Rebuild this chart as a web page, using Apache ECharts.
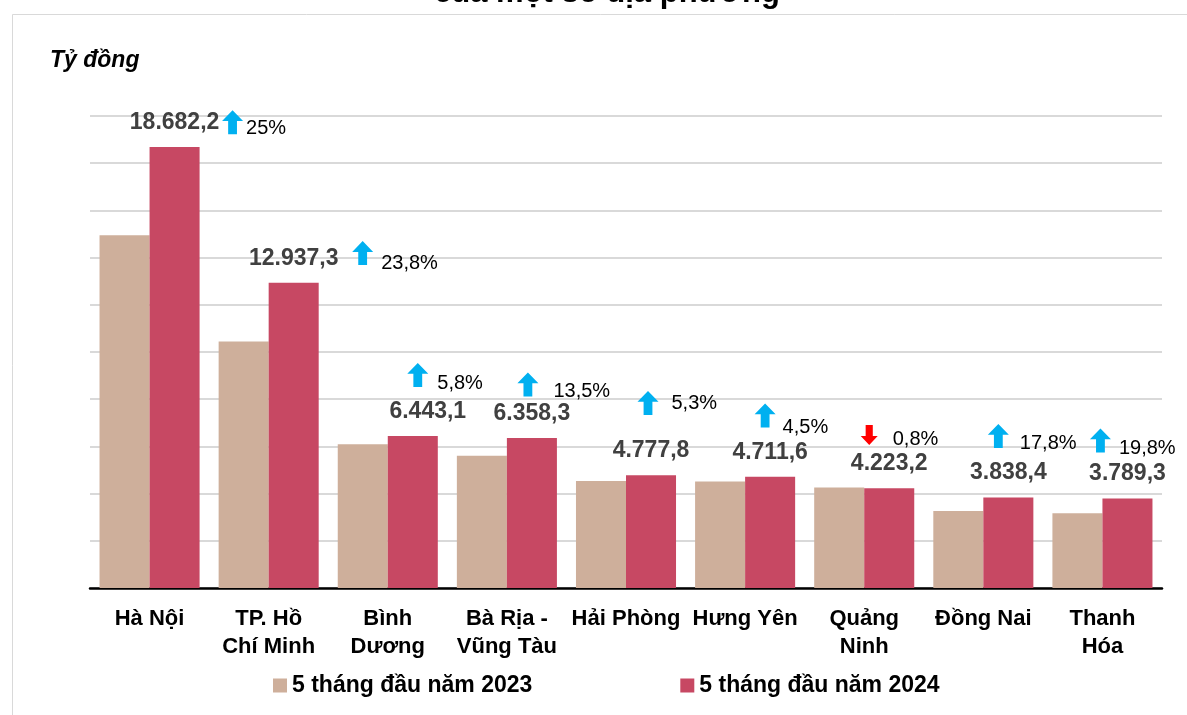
<!DOCTYPE html>
<html>
<head>
<meta charset="utf-8">
<script src="https://cdn.jsdelivr.net/npm/echarts@6/dist/echarts.min.js"></script>
<style>
html,body{margin:0;padding:0;background:#fff;}
#chart{width:1187px;height:715px;}
</style>
</head>
<body>
<div id="chart"></div>
<script>
// ---- data ----
const categories = ['Hà Nội', 'TP. Hồ\nChí Minh', 'Bình\nDương', 'Bà Rịa -\nVũng Tàu', 'Hải Phòng', 'Hưng Yên', 'Quảng\nNinh', 'Đồng Nai', 'Thanh\nHóa'];
const seriesNames = ['5 tháng đầu năm 2023', '5 tháng đầu năm 2024'];
const values2023 = [14945.8, 10450.2, 6089.9, 5602.0, 4537.3, 4508.7, 4257.3, 3258.4, 3163.0];
const values2024 = [18682.2, 12937.3, 6443.1, 6358.3, 4777.8, 4711.6, 4223.2, 3838.4, 3789.3];
const changePct = [25, 23.8, 5.8, 13.5, 5.3, 4.5, -0.8, 17.8, 19.8];
const yTicks = [0, 2000, 4000, 6000, 8000, 10000, 12000, 14000, 16000, 18000, 20000];
const titleText = 'của một số địa phương';
const unitText = 'Tỷ đồng';

// ---- annotation layout (arrow anchor in value units, offsets in px) ----
const arrowAnchorY = [19735, 14191, 9027, 8625, 7842, 7313, 6488, 6445, 6255];
const arrowDx = [83, 94, 30, 21, 22, 20, 5, 15, -2];
const pctDx = [3, 8, 9, 15, 13, 7, 13, 11, 8];
const pctDy = [6, 10, 9, 7, 1, 12, 5, 8, 8];
const valueLabelDx = [0, 0, 15, 0, 0, 0, 0, 0, 0];

const FONT = '"Liberation Sans", Arial, Helvetica, sans-serif';
const C2023 = '#CEAF9B';
const C2024 = '#C74863';

function fmtVN(v, d) {
  const parts = v.toFixed(d).split('.');
  parts[0] = parts[0].replace(/\B(?=(\d{3})+(?!\d))/g, '.');
  return parts.join(',');
}
function fmtPct(p) {
  const a = Math.abs(p);
  return (Number.isInteger(a) ? String(a) : a.toFixed(1).replace('.', ',')) + '%';
}

const UP = 'path://M50,0 L100,45 L71,45 L71,100 L29,100 L29,45 L0,45 Z';
const DOWN = 'path://M29,0 L71,0 L71,55 L100,55 L50,100 L0,55 L29,55 Z';

const chart = echarts.init(document.getElementById('chart'));
chart.setOption({
  animation: false,
  backgroundColor: '#fff',
  textStyle: { fontFamily: FONT },
  grid: { left: 90, right: 25, top: 116, bottom: 127, containLabel: false },
  graphic: [
    { type: 'rect', shape: { x: 12.5, y: 14.5, width: 1200, height: 720 }, style: { fill: 'none', stroke: '#D9D9D9', lineWidth: 1 }, z: -1 },
    { type: 'text', x: 607, y: 9, style: { text: titleText, font: 'bold 31px ' + FONT, fill: '#000', align: 'center', verticalAlign: 'bottom' } },
    { type: 'text', x: 50, y: 61, style: { text: unitText, font: 'italic bold 23px ' + FONT, fill: '#000', align: 'left', verticalAlign: 'middle' } }
  ],
  legend: {
    top: 669,
    left: 268,
    itemWidth: 14,
    itemHeight: 14,
    itemGap: 148,
    icon: 'rect',
    textStyle: { fontSize: 23, fontWeight: 'bold', color: '#000', fontFamily: FONT },
    data: seriesNames
  },
  xAxis: {
    type: 'category',
    data: categories,
    axisLine: { lineStyle: { color: '#000', width: 2.5 } },
    axisTick: { show: false },
    axisLabel: { interval: 0, fontSize: 22, fontWeight: 'bold', color: '#000', lineHeight: 28, margin: 17, fontFamily: FONT }
  },
  yAxis: {
    type: 'value',
    min: yTicks[0],
    max: yTicks[yTicks.length - 1],
    interval: yTicks[1] - yTicks[0],
    axisLabel: { show: false },
    axisLine: { show: false },
    axisTick: { show: false },
    splitLine: { lineStyle: { color: '#D9D9D9', width: 2 } }
  },
  series: [
    {
      name: seriesNames[0],
      type: 'bar',
      data: values2023,
      barGap: '0%',
      barCategoryGap: '16%',
      itemStyle: { color: C2023 }
    },
    {
      name: seriesNames[1],
      type: 'bar',
      data: values2024.map((v, i) => ({
        value: v,
        label: { offset: [valueLabelDx[i], 0] }
      })),
      itemStyle: { color: C2024 },
      label: {
        show: true,
        position: 'top',
        distance: 13,
        fontSize: 23,
        fontWeight: 'bold',
        color: '#404040',
        fontFamily: FONT,
        formatter: p => fmtVN(p.value, 1)
      }
    },
    {
      name: 'change',
      type: 'scatter',
      silent: true,
      z: 5,
      data: arrowAnchorY.map((y, i) => {
        const up = changePct[i] >= 0;
        return {
          value: [i, y],
          symbol: up ? UP : DOWN,
          symbolSize: up ? [21, 24] : [17, 20],
          symbolOffset: [arrowDx[i], 0],
          itemStyle: { color: up ? '#00B0F0' : '#FF0000', opacity: 1 },
          label: {
            show: true,
            position: 'right',
            distance: 0,
            offset: [pctDx[i] + (up ? 0 : 2), pctDy[i]],
            formatter: () => fmtPct(changePct[i]),
            fontSize: 20,
            color: '#000',
            opacity: 1,
            fontFamily: FONT
          }
        };
      })
    }
  ]
});
</script>
</body>
</html>
